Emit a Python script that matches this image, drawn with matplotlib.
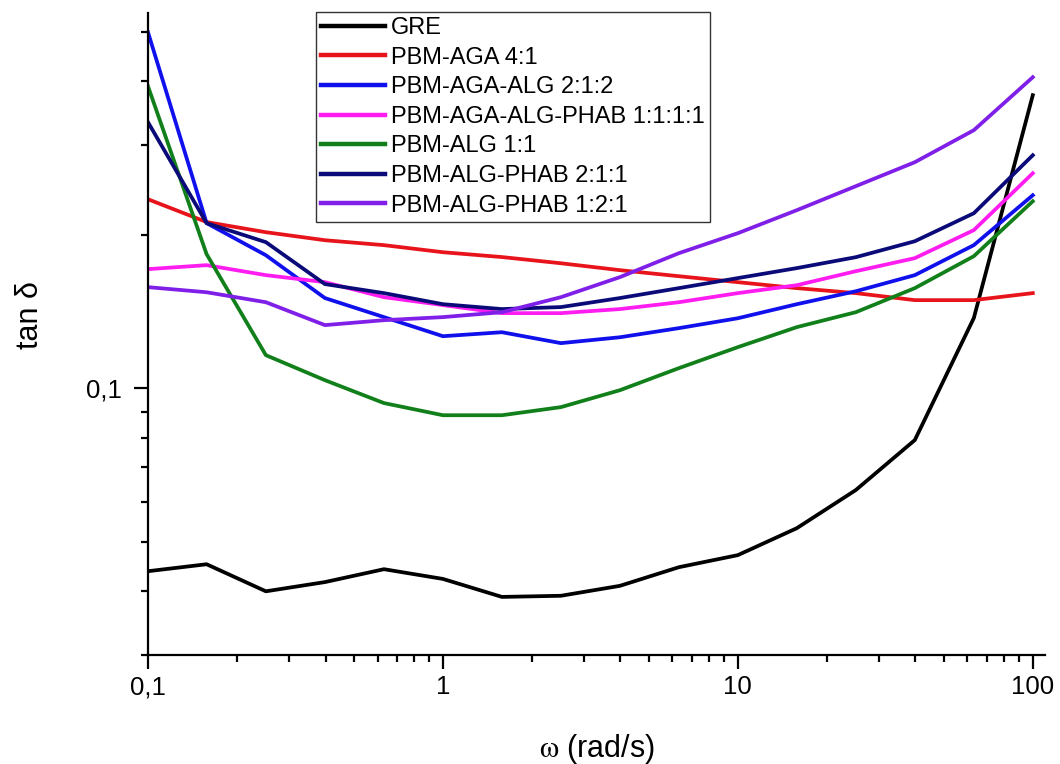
import matplotlib
matplotlib.use("Agg")
import matplotlib.pyplot as plt
from matplotlib.ticker import FixedLocator, LogLocator, FuncFormatter, NullFormatter

plt.rcParams['font.family'] = ['Liberation Sans', 'DejaVu Sans']
plt.rcParams['mathtext.fontset'] = 'stix'

omega = [0.1, 0.158, 0.251, 0.398, 0.631, 1.0, 1.585, 2.512, 3.981, 6.31,
         10.0, 15.85, 25.12, 39.81, 63.1, 100.0]

gre = [0.0438, 0.0452, 0.0400, 0.0417, 0.0442, 0.0423, 0.0390, 0.0392, 0.0410,
       0.0446, 0.0471, 0.0532, 0.0632, 0.0792, 0.1374, 0.376]
pbm_aga_41 = [0.235, 0.212, 0.2025, 0.1953, 0.191, 0.185, 0.181, 0.176, 0.1706,
              0.166, 0.1616, 0.1573, 0.1538, 0.149, 0.149, 0.1538]
pbm_aga_alg_212 = [0.4995, 0.211, 0.1825, 0.1504, 0.138, 0.1266, 0.1289, 0.1227,
                   0.126, 0.1313, 0.1373, 0.1463, 0.1551, 0.1668, 0.191, 0.2393]
pbm_aga_alg_phab_1111 = [0.1714, 0.1745, 0.1668, 0.1616, 0.151, 0.1457, 0.1405,
                         0.1405, 0.1431, 0.1476, 0.1538, 0.1594, 0.1698, 0.1801,
                         0.2044, 0.2643]
pbm_alg_11 = [0.3914, 0.1834, 0.1162, 0.1038, 0.0936, 0.0886, 0.0886, 0.0919,
              0.0992, 0.1096, 0.1205, 0.1319, 0.1411, 0.1573, 0.1817, 0.2329]
pbm_alg_phab_211 = [0.3328, 0.211, 0.1936, 0.1602, 0.1538, 0.1463, 0.1431, 0.1444,
                    0.1504, 0.1573, 0.1646, 0.1722, 0.1809, 0.1944, 0.2206, 0.2867]
pbm_alg_phab_121 = [0.158, 0.1544, 0.1476, 0.1331, 0.1361, 0.138, 0.1411, 0.151,
                    0.1653, 0.1842, 0.2016, 0.2237, 0.2493, 0.2778, 0.321, 0.4078]

labels = ["GRE", "PBM-AGA 4:1", "PBM-AGA-ALG 2:1:2", "PBM-AGA-ALG-PHAB 1:1:1:1",
          "PBM-ALG 1:1", "PBM-ALG-PHAB 2:1:1", "PBM-ALG-PHAB 1:2:1"]
series = [gre, pbm_aga_41, pbm_aga_alg_212, pbm_aga_alg_phab_1111,
          pbm_alg_11, pbm_alg_phab_211, pbm_alg_phab_121]
colors = ["#000000", "#e8141c", "#1010ec", "#ff1cf0", "#12801a", "#0a0a78", "#7f1fe8"]

xticks = [0.1, 1, 10, 100]
yticks = [0.1]

fig = plt.figure(figsize=(10.6, 7.64), dpi=100)
ax = fig.add_axes([148/1060, 1-655/764, (1045-148)/1060, (655-13)/764])

for ys, lab, c in zip(series, labels, colors):
    ax.plot(omega, ys, color=c, lw=2.7, label=lab)

ax.set_xscale('log')
ax.set_yscale('log')
ax.set_xlim(0.1, 110)
ax.set_ylim(0.03, 0.545)

def comma(v, pos):
    return ('%g' % v).replace('.', ',')

ax.xaxis.set_major_locator(FixedLocator(xticks))
ax.xaxis.set_major_formatter(FuncFormatter(comma))
ax.xaxis.set_minor_locator(LogLocator(base=10, subs=range(2, 10)))
ax.xaxis.set_minor_formatter(NullFormatter())
ax.yaxis.set_major_locator(FixedLocator(yticks))
ax.yaxis.set_major_formatter(FuncFormatter(comma))
ax.yaxis.set_minor_locator(LogLocator(base=10, subs=range(2, 10)))
ax.yaxis.set_minor_formatter(NullFormatter())

for s in ['top', 'right']:
    ax.spines[s].set_visible(False)
for s in ['left', 'bottom']:
    ax.spines[s].set_linewidth(1.6)

ax.tick_params(which='major', direction='out', length=10, width=1.6, labelsize=18.5)
ax.tick_params(which='minor', direction='out', length=5, width=1.6)
ax.tick_params(axis='x', which='major', pad=4.5)
ax.tick_params(axis='y', which='major', pad=9)

ax.set_xlabel(r'$\mathrm{\omega}$ (rad/s)', fontsize=22)
ax.xaxis.set_label_coords(0.5, -(749 - 655) / (655 - 13), transform=ax.transAxes)
ax.xaxis.label.set_va('center')
ax.set_ylabel('tan \u03b4', fontsize=22)
ax.yaxis.set_label_coords(-(148 - 30) / (1045 - 148), (655 - 315) / (655 - 13),
                          transform=ax.transAxes)
ax.yaxis.label.set_va('center')

leg = ax.legend(loc='upper left', bbox_to_anchor=(316/1060, 1-12/764),
                bbox_transform=fig.transFigure, borderaxespad=0, fontsize=17,
                handlelength=2.7, handletextpad=0.25, labelspacing=0.32,
                borderpad=0.22, fancybox=False, frameon=True, framealpha=1)
leg.get_frame().set_edgecolor('#333333')
leg.get_frame().set_linewidth(1.0)
for l in leg.get_lines():
    l.set_linewidth(3.2)

fig.savefig('out.png', dpi=100)
